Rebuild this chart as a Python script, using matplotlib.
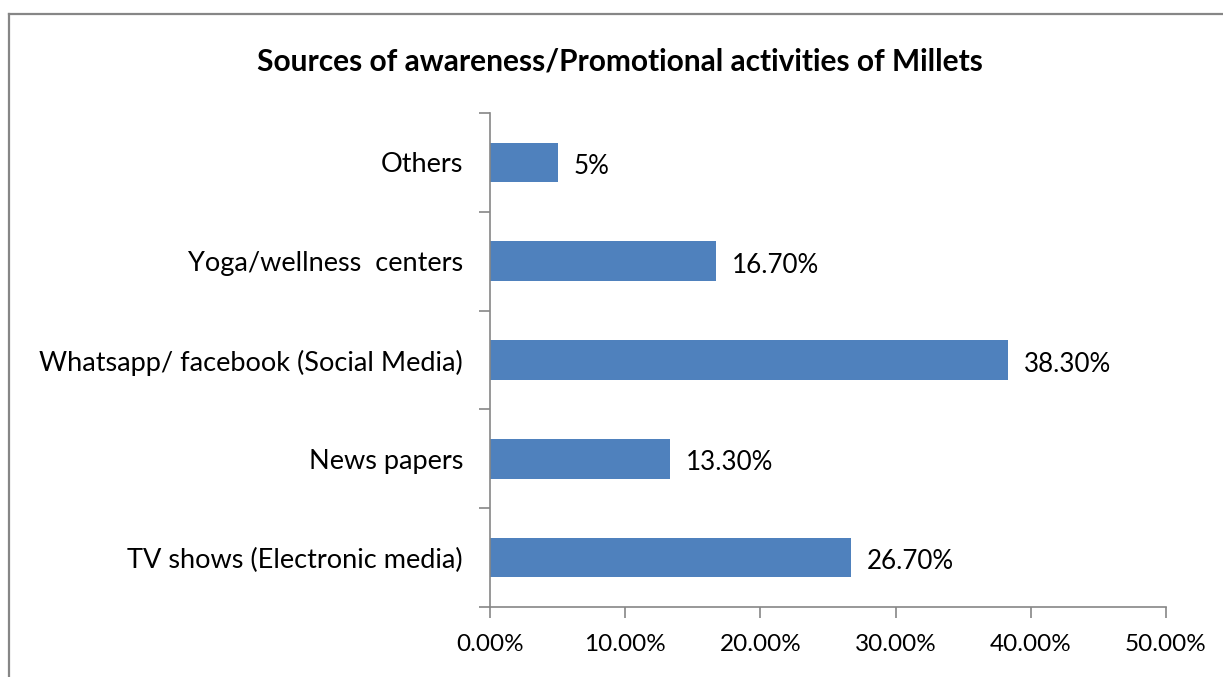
import matplotlib
matplotlib.use("Agg")
import matplotlib.pyplot as plt
from matplotlib.lines import Line2D
from matplotlib.ticker import FuncFormatter, MultipleLocator

categories = ["TV shows (Electronic media)", "News papers",
              "Whatsapp/ facebook (Social Media)", "Yoga/wellness  centers", "Others"]
values = [26.7, 13.3, 38.3, 16.7, 5.0]
value_labels = ["26.70%", "13.30%", "38.30%", "16.70%", "5%"]
title = "Sources of awareness/Promotional activities of Millets"

plt.rcParams['font.family'] = ['Lato', 'DejaVu Sans']
W, H = 1223, 677
fig = plt.figure(figsize=(W / 100, H / 100), dpi=100)
ax = fig.add_axes([490 / W, 1 - 607 / H, (1166 - 490) / W, (607 - 113) / H])

pos = list(range(len(categories)))
ax.barh(pos, values, height=0.4, color="#4F81BD")
ax.set_xlim(0, 50)
ax.set_ylim(-0.5, len(categories) - 0.5)
ax.xaxis.set_major_locator(MultipleLocator(10))
ax.xaxis.set_major_formatter(FuncFormatter(lambda v, p: f"{v:.2f}%"))
ax.set_yticks(pos)
ax.set_yticklabels(categories)
ax.set_yticks([i - 0.5 for i in range(len(categories) + 1)], minor=True)
ax.tick_params(axis='y', which='major', length=0, pad=19.4, labelsize=19.5)
ax.tick_params(axis='y', which='minor', length=8, width=1.2, color="#868686")
ax.tick_params(axis='x', length=8, width=1.2, color="#868686", labelsize=17.5, pad=11.5)
for s in ['top', 'right']:
    ax.spines[s].set_visible(False)
for s in ['left', 'bottom']:
    ax.spines[s].set_color("#868686")
    ax.spines[s].set_linewidth(1.2)

for p, v, lab in zip(pos, values, value_labels):
    ax.annotate(lab, (v, p), xytext=(11.5, -3), textcoords='offset points',
                va='center', ha='left', fontsize=18.7)

fig.text(620 / W, 1 - 61.5 / H, title, ha='center', va='center',
         fontsize=21.5, fontweight='bold')

fig.add_artist(Line2D([8.5 / W, 8.5 / W], [0, 1 - 13.5 / H], transform=fig.transFigure,
                      color="#868686", lw=1.6))
fig.add_artist(Line2D([8.5 / W, 1], [1 - 13.5 / H, 1 - 13.5 / H], transform=fig.transFigure,
                      color="#868686", lw=1.6))

fig.savefig("out.png", dpi=100)
